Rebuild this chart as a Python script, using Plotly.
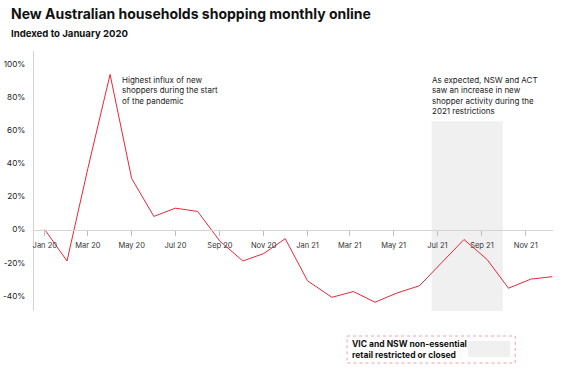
import plotly.graph_objects as go

# ---- data ----
dates = [
    "2020-01-01", "2020-02-01", "2020-03-01", "2020-04-01", "2020-05-01", "2020-06-01",
    "2020-07-01", "2020-08-01", "2020-09-01", "2020-10-03", "2020-11-01", "2020-12-01",
    "2021-01-01", "2021-02-04", "2021-03-06", "2021-04-05", "2021-05-05", "2021-06-06",
    "2021-07-07", "2021-08-07", "2021-09-08", "2021-10-08", "2021-11-08", "2021-12-08",
]
values = [
    0, -19, 37, 94, 31, 8,
    13, 11, -7, -19, -14.5, -5.5,
    -31, -41, -37.5, -44, -38.5, -34,
    -20, -6, -18, -35.5, -30, -28.5,
]
y_tickvals = [-40, -20, 0, 20, 40, 60, 80, 100]
y_ticktext = ["-40%", "-20%", "0%", "20%", "40%", "60%", "80%", "100%"]
restriction_start = "2021-06-23"
restriction_end = "2021-09-30"
restriction_top = 65.6

title = "New Australian households shopping monthly online"
subtitle = "Indexed to January 2020"
note_pandemic = "Highest influx of new<br>shoppers during the start<br>of the pandemic"
note_restrictions = "As expected, NSW and ACT<br>saw an increase in new<br>shopper activity during the<br>2021 restrictions"
legend_label = "VIC and NSW non-essential<br>retail restricted or closed"

y_min, y_max = -49.3, 108.2
FONT = "Inter"
RED = "#e6283a"
GREY = "#eff0ef"
AXIS = "#d4d4d4"

fig = go.Figure()
fig.add_trace(go.Scatter(
    x=dates, y=values, mode="lines",
    line=dict(color=RED, width=1),
    hoverinfo="skip", showlegend=False,
))

# shaded restriction period
fig.add_shape(type="rect", xref="x", yref="y",
              x0=restriction_start, x1=restriction_end, y0=y_min, y1=restriction_top,
              fillcolor=GREY, line_width=0, layer="below")

zero_pos = (0 - y_min) / (y_max - y_min)

fig.update_layout(
    width=572, height=372,
    margin=dict(l=34.3, r=19.3, t=51, b=61),
    paper_bgcolor="white", plot_bgcolor="white",
    font=dict(family=FONT, color="#1a1a1a"),
    xaxis=dict(
        type="date", range=["2019-12-17", "2021-12-09"],
        tick0="2020-01-01", dtick="M2", tickformat="%b %y",
        showgrid=False, zeroline=False,
        showline=True, linecolor=AXIS, linewidth=1,
        ticks="outside", ticklen=5, tickcolor="#bdbdbd", tickwidth=1,
        ticklabelstandoff=3,
        tickfont=dict(size=7.5, color="#333333"),
        anchor="free", position=zero_pos, automargin=False,
    ),
    yaxis=dict(
        range=[y_min, y_max],
        tickvals=y_tickvals, ticktext=y_ticktext,
        showgrid=False, zeroline=False,
        showline=True, linecolor=AXIS, linewidth=1,
        ticks="", ticklabelstandoff=6, automargin=False,
        tickfont=dict(size=8.2, color="#222222"),
    ),
)

# helpers: pixel -> paper coordinates (plot area spans x 34.3..552.7, y 51..311)
def px_x(p):
    return (p - 34.3) / 518.4

def px_y(p):
    return (311 - p) / 260

# Titles
fig.add_annotation(text="<b>" + title + "</b>", xref="paper", yref="paper",
                   x=px_x(9), y=px_y(3), xanchor="left", yanchor="top",
                   showarrow=False, font=dict(size=14, family=FONT, color="#111111"))
fig.add_annotation(text="<b>" + subtitle + "</b>", xref="paper", yref="paper",
                   x=px_x(9), y=px_y(26), xanchor="left", yanchor="top",
                   showarrow=False, font=dict(size=9.6, family=FONT, color="#111111"))

# notes
fig.add_annotation(text=note_pandemic, xref="paper", yref="paper",
                   x=px_x(120), y=px_y(73), xanchor="left", yanchor="top",
                   align="left", showarrow=False,
                   font=dict(size=8, family=FONT, color="#1a1a1a"))
fig.add_annotation(text=note_restrictions, xref="paper", yref="paper",
                   x=px_x(430), y=px_y(73), xanchor="left", yanchor="top",
                   align="left", showarrow=False,
                   font=dict(size=8, family=FONT, color="#1a1a1a"))

# legend box
fig.add_shape(type="rect", xref="paper", yref="paper",
              x0=px_x(347), x1=px_x(515), y0=px_y(336), y1=px_y(363),
              line=dict(color="#f2a0a8", width=1, dash="dot"), fillcolor="rgba(0,0,0,0)")
fig.add_shape(type="rect", xref="paper", yref="paper",
              x0=px_x(468), x1=px_x(510), y0=px_y(341), y1=px_y(357),
              line_width=0, fillcolor=GREY)
fig.add_annotation(text="<b>" + legend_label + "</b>", xref="paper", yref="paper",
                   x=px_x(350), y=px_y(349), xanchor="left", yanchor="middle",
                   align="left", showarrow=False,
                   font=dict(size=8.5, family=FONT, color="#111111"))

# remove the default page margin so the 572x372 figure fills the window exactly
fig.write_html("out.html", config={"displayModeBar": False},
               post_script="document.body.style.margin='0';")
